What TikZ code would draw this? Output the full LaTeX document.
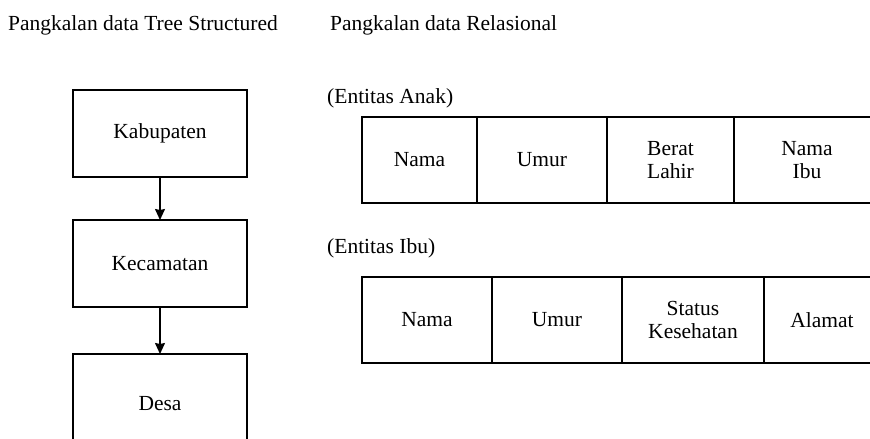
\documentclass[tikz,border=0pt]{standalone}
\usepackage{fontspec}
\setmainfont{Liberation Serif}
\usetikzlibrary{positioning, arrows.meta}

\begin{document}
\begin{tikzpicture}[
    x=1pt, y=-1pt,
    node distance=45pt,
    every node/.style={font=\fontsize{21.5}{23}\selectfont, align=center},
    arrow/.style={-{Stealth[length=11pt, width=10pt, inset=1pt]}, line width=1.3pt},
    levelbox/.style={draw, rectangle, line width=1.3pt, minimum width=174pt, minimum height=87pt, outer sep=0pt},
    cell/.style={draw, rectangle, line width=1.3pt, minimum height=86pt, outer sep=0pt, inner sep=0pt}
]
    \useasboundingbox (0,0) rectangle (870,439);
    \clip (0,0) rectangle (870,439);

    % judul
    \node (judultree) [anchor=base west, inner sep=0pt] at (8,30) {Pangkalan data Tree Structured};
    \node (judulrel) [anchor=base west, inner sep=0pt] at (330,30) {Pangkalan data Relasional};

    % tree structured
    \node (kab) [levelbox] at (160,133.5) {Kabupaten};
    \node (kec) [levelbox, below=43pt of kab] {Kecamatan};
    \node (desa) [levelbox, below=47pt of kec, minimum height=100pt] {Desa};

    \draw [arrow] (kab) -- (kec);
    \draw [arrow] (kec) -- (desa);

    % relasional: entitas anak
    \node (anaklabel) [anchor=west, inner sep=0pt] at (327,98) {(Entitas Anak)};
    \node (anama) [cell, minimum width=115pt, anchor=north west] at (362,117) {Nama};
    \node (aumur) [cell, minimum width=130pt, right=0pt of anama] {Umur};
    \node (aberat) [cell, minimum width=127pt, right=0pt of aumur] {Berat\\Lahir};
    \node (aibu) [cell, minimum width=146pt, right=0pt of aberat] {Nama\\Ibu};

    % relasional: entitas ibu
    \node (ibulabel) [anchor=west, inner sep=0pt] at (327,248) {(Entitas Ibu)};
    \node (inama) [cell, minimum width=130pt, anchor=north west] at (362,277) {Nama};
    \node (iumur) [cell, minimum width=130pt, right=0pt of inama] {Umur};
    \node (istatus) [cell, minimum width=142pt, right=0pt of iumur] {Status\\Kesehatan};
    \node (ialamat) [cell, minimum width=116pt, right=0pt of istatus] {Alamat};
\end{tikzpicture}
\end{document}
